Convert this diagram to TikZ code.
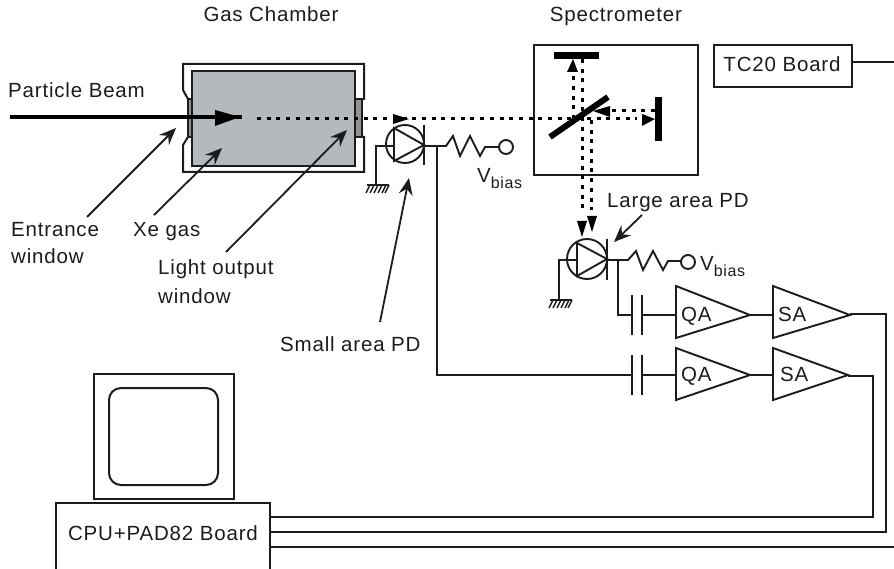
\documentclass[tikz,border=0pt]{standalone}
\usepackage{fontspec}
\setmainfont{Liberation Sans}[LetterSpace=4]
\usetikzlibrary{arrows.meta}
\usetikzlibrary{calc}
\definecolor{xegray}{HTML}{B3B9BC}
\definecolor{wingray}{HTML}{8E9497}
\definecolor{inkline}{HTML}{1C1C1C}
\newcommand{\vbias}{V\raisebox{-6pt}{\fontsize{16}{16}\selectfont bias}}
\tikzset{
	wire/.style={draw=inkline, line width=1.9pt},
	box/.style={draw=inkline, line width=2pt},
	lightray/.style={draw=black, line width=3pt, dash pattern=on 4pt off 5.7pt},
	mirror/.style={fill=black},
	pointer/.style={draw=inkline, line width=1.8pt, -{Stealth[length=17pt,width=14pt,inset=6pt]}},
	lbl/.style={font=\fontsize{20.5}{22}\selectfont, inner sep=0pt, anchor=base west, text=inkline},
}
\begin{document}
\begin{tikzpicture}[x=1pt,y=-1pt]
	\useasboundingbox (0,0) rectangle (894,569);
	% gas chamber
	\draw[box] (188,99)--(183,90)--(183,64)--(364,64)--(364,99)--(362,99);
	\draw[box] (188,137)--(183,145)--(183,172)--(364,172)--(364,137)--(362,137);
	\draw[box, fill=wingray, line width=1.5pt] (188,99) rectangle (192,137);
	\draw[box, fill=wingray, line width=1.5pt] (355,99) rectangle (362,137);
	\draw[box, fill=xegray] (192,71) rectangle (355,166);
	% particle beam
	\coordinate (beamstart) at (10,117);
	\coordinate (beamend) at (242,117);
	\draw[line width=4pt] (beamstart)--(beamend);
	\fill (215,110)--(240,117)--(215,126)--cycle;
	\draw[lightray] (257,119)--(637,119);
	\fill (393,114)--(409,119)--(393,124)--cycle;
	% spectrometer
	\node[box, minimum width=164pt, minimum height=130pt, anchor=north west] (spectro) at (533,44) {};
	\node[lbl, anchor=base] (spectrotext) at (616,22) {Spectrometer};
	\node[lbl, anchor=base] (gastext) at (271,22) {Gas Chamber};
	\node[box, minimum width=138pt, minimum height=42pt, anchor=north west, lbl, anchor=north west, inner sep=0pt] (tc) at (713,44) {};
	\node[lbl, anchor=base] (tctext) at (782,72) {TC20 Board};
	\coordinate (tcout) at (894,62);
	\draw[wire] (tc.east |- tcout)--(tcout);
	\fill[mirror] (554,52) rectangle (599,59);
	\fill[mirror] (655,97) rectangle (662,141);
	\draw[line width=6pt] (550,137)--(608,97);
	\draw[lightray] (573,119)--(573,72);
	\draw[lightray] (582,59)--(582,213);
	\draw[lightray] (591,120)--(591,210);
	\draw[lightray] (655,111)--(610,111);
	\fill (567,72)--(573,59)--(578,72)--cycle;
	\fill (610,106)--(593,111)--(610,117)--cycle;
	\fill (642,114)--(655,119)--(642,126)--cycle;
	\fill (577,221)--(582,237)--(587,221)--cycle;
	\fill (587,216)--(592,232)--(597,216)--cycle;
	% small area PD
	\draw[wire] (405,144) circle (19);
	\draw[wire] (394,128)--(424,145)--(394,161)--cycle;
	\draw[wire] (424,125)--(424,165);
	\draw[wire] (393,146)--(376,146)--(376,185);
	\draw[wire] (367,185)--(389,185);
	\foreach \x in {370,374,378,382,386,389}
		\draw[wire, line width=1.5pt] (\x,185)--(\x-4,193);
	\draw[wire] (424,146)--(446,146)--(453,136)--(460,156)--(470,136)--(480,156)--(485,147)--(498,147);
	\draw[wire, fill=white] (506,147) circle (7);
	\coordinate (smalltap) at (437,146);
	\coordinate (smallcap) at (632,375);
	\draw[wire] (smalltap)--(smalltap |- smallcap)--(smallcap);
	\node[lbl] (vbiasa) at (477,183) {\vbias};
	% large area PD
	\draw[wire] (587,259) circle (20);
	\draw[wire] (577,243)--(607,259)--(577,276)--cycle;
	\draw[wire] (607,239)--(607,280);
	\draw[wire] (577,260)--(559,260)--(559,300);
	\draw[wire] (550,300)--(572,300);
	\foreach \x in {553,557,561,565,569,572}
		\draw[wire, line width=1.5pt] (\x,300)--(\x-4,308);
	\draw[wire] (607,260)--(628,260)--(636,251)--(643,270)--(653,251)--(663,270)--(668,261)--(682,261);
	\draw[wire, fill=white] (688,262) circle (7);
	\coordinate (largetap) at (618,260);
	\coordinate (largecap) at (632,315);
	\draw[wire] (largetap)--(largetap |- largecap)--(largecap);
	\node[lbl] (vbiasb) at (700,271) {\vbias};
	% amplifier chains
	\foreach \n/\y/\t/\b/\tipx/\sx in {a/315/286/338/850/778,b/375/348/400/848/780}{
		\draw[wire] (632,\y-20)--(632,\y+20);
		\draw[wire] (642,\y-20)--(642,\y+20);
		\draw[wire] (642,\y)--(676,\y);
		\draw[wire, line join=miter] (676,\t)--(750,\y)--(676,\b)--cycle;
		\node[lbl] (qa\n) at (681,\y+6.5) {QA};
		\draw[wire] (750,\y)--(773,\y);
		\draw[wire, line join=miter] (773,\t)--(\tipx,\y)--(773,\b)--cycle;
		\node[lbl] (sa\n) at (\sx,\y+6.5) {SA};
	}
	% computer
	\draw[box] (94,374) rectangle (234,499);
	\draw[box, rounded corners=12pt] (109,388) rectangle (218,485);
	\draw[box] (56,569)--(56,503)--(270,503)--(270,569);
	\node[lbl, anchor=base] (cpu) at (163,540) {CPU+PAD82 Board};
	\draw[wire] (850,314)--(886,314)--(886,532)--(270,532);
	\draw[wire] (848,376)--(873,376)--(873,517)--(270,517);
	\draw[wire] (270,547)--(894,547);
	% labels
	\node[lbl] (beamtext) at (8,98) {Particle Beam};
	\node[lbl] (enttext) at (11,237) {Entrance};
	\node[lbl] (enttextb) at (11,264) {window};
	\node[lbl] (xetext) at (133,237) {Xe gas};
	\node[lbl] (lighttext) at (158,275) {Light output};
	\node[lbl] (lighttextb) at (158,303) {window};
	\node[lbl] (smalltext) at (280,351) {Small area PD};
	\node[lbl] (largetext) at (607,208) {Large area PD};
	\coordinate (enttip) at (176,128);
	\coordinate (xetip) at (222,148);
	\coordinate (lighttip) at (347,130);
	\coordinate (smalltip) at (409,178);
	\coordinate (largetip) at (614,242);
	\draw[pointer] (87,217)--(enttip);
	\draw[pointer] (154,215)--(xetip);
	\draw[pointer] (226,252)--(lighttip);
	\draw[pointer] (380,322)--(smalltip);
	\draw[pointer] (642,215)--(largetip);
\end{tikzpicture}
\end{document}
